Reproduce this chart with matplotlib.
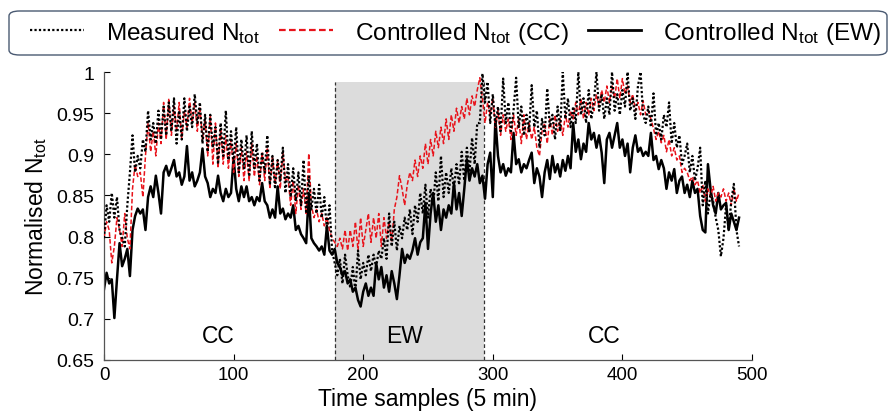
import numpy as np
import matplotlib
matplotlib.use("Agg")
import matplotlib.pyplot as plt
from matplotlib.lines import Line2D
from matplotlib.patches import FancyBboxPatch

plt.rcParams['font.family'] = ['Liberation Sans', 'DejaVu Sans']
plt.rcParams['mathtext.fontset'] = 'custom'
plt.rcParams['mathtext.rm'] = 'Liberation Sans'

# time samples (every 2nd sample)
samples = np.arange(0, 492, 2)

measured = [
    0.798, 0.838, 0.818, 0.853, 0.823,
    0.848, 0.808, 0.798, 0.788, 0.838,
    0.878, 0.923, 0.878, 0.898, 0.883,
    0.918, 0.903, 0.953, 0.918, 0.938,
    0.913, 0.953, 0.918, 0.958, 0.923,
    0.963, 0.928, 0.968, 0.913, 0.953,
    0.918, 0.968, 0.928, 0.958, 0.933,
    0.973, 0.938, 0.963, 0.913, 0.948,
    0.903, 0.948, 0.908, 0.933, 0.888,
    0.938, 0.898, 0.953, 0.893, 0.928,
    0.888, 0.933, 0.878, 0.918, 0.883,
    0.923, 0.873, 0.928, 0.883, 0.913,
    0.868, 0.903, 0.878, 0.923, 0.863,
    0.898, 0.858, 0.893, 0.868, 0.908,
    0.853, 0.888, 0.848, 0.883, 0.843,
    0.878, 0.838, 0.893, 0.828, 0.873,
    0.833, 0.858, 0.828, 0.863, 0.823,
    0.848, 0.808, 0.838, 0.783, 0.768,
    0.753, 0.773, 0.743, 0.778, 0.753,
    0.738, 0.763, 0.733, 0.783, 0.748,
    0.768, 0.753, 0.778, 0.758, 0.778,
    0.763, 0.783, 0.773, 0.798, 0.773,
    0.828, 0.788, 0.818, 0.783, 0.813,
    0.798, 0.823, 0.808, 0.833, 0.803,
    0.838, 0.818, 0.853, 0.828, 0.863,
    0.823, 0.858, 0.838, 0.878, 0.843,
    0.898, 0.848, 0.878, 0.853, 0.883,
    0.858, 0.888, 0.863, 0.903, 0.868,
    0.908, 0.878, 0.920, 0.888, 0.938,
    0.938, 0.998, 0.963, 0.988, 0.938,
    0.973, 0.933, 0.958, 0.928, 0.992,
    0.938, 0.963, 0.928, 0.953, 0.993,
    0.933, 0.958, 0.923, 0.948, 0.928,
    0.984, 0.933, 0.953, 0.908, 0.943,
    0.923, 0.980, 0.933, 0.948, 0.918,
    0.958, 0.928, 1.000, 0.943, 0.968,
    0.933, 0.958, 0.938, 1.000, 0.948,
    0.968, 0.938, 0.978, 0.943, 0.963,
    1.000, 0.953, 0.973, 0.943, 0.968,
    0.948, 1.000, 0.953, 0.973, 0.948,
    0.978, 0.958, 1.000, 0.953, 0.968,
    0.943, 0.983, 1.000, 0.948, 0.938,
    0.958, 0.933, 0.974, 0.923, 0.938,
    0.918, 0.948, 0.933, 0.963, 0.913,
    0.938, 0.908, 0.923, 0.888, 0.898,
    0.913, 0.878, 0.898, 0.868, 0.883,
    0.908, 0.838, 0.868, 0.828, 0.853,
    0.843, 0.823, 0.808, 0.776, 0.798,
    0.838, 0.808, 0.843, 0.864, 0.808,
    0.788,
]

controlled_cc = [
    0.798, 0.818, 0.808, 0.768, 0.788,
    0.823, 0.808, 0.788, 0.828, 0.798,
    0.785, 0.858, 0.888, 0.873, 0.878,
    0.848, 0.898, 0.938, 0.903, 0.928,
    0.898, 0.938, 0.913, 0.963, 0.918,
    0.968, 0.923, 0.958, 0.928, 0.963,
    0.918, 0.953, 0.933, 0.968, 0.938,
    0.963, 0.928, 0.958, 0.918, 0.943,
    0.898, 0.948, 0.888, 0.938, 0.883,
    0.933, 0.888, 0.923, 0.883, 0.918,
    0.878, 0.913, 0.873, 0.908, 0.868,
    0.903, 0.868, 0.913, 0.873, 0.898,
    0.863, 0.903, 0.868, 0.908, 0.858,
    0.898, 0.863, 0.893, 0.858, 0.903,
    0.868, 0.873, 0.838, 0.868, 0.828,
    0.863, 0.833, 0.858, 0.828, 0.901,
    0.838, 0.823, 0.833, 0.818, 0.828,
    0.813, 0.823, 0.808, 0.798, 0.793,
    0.788, 0.798, 0.785, 0.808, 0.783,
    0.808, 0.788, 0.818, 0.783, 0.823,
    0.788, 0.808, 0.828, 0.793, 0.823,
    0.798, 0.828, 0.788, 0.823, 0.798,
    0.818, 0.793, 0.833, 0.848, 0.874,
    0.858, 0.838, 0.863, 0.878, 0.868,
    0.893, 0.873, 0.898, 0.883, 0.913,
    0.888, 0.918, 0.898, 0.928, 0.908,
    0.933, 0.913, 0.943, 0.918, 0.948,
    0.928, 0.956, 0.938, 0.958, 0.943,
    0.968, 0.948, 0.971, 0.958, 0.978,
    0.993, 0.968, 0.938, 0.963, 0.948,
    0.968, 0.933, 0.953, 0.923, 0.948,
    0.928, 0.943, 0.918, 0.948, 0.923,
    0.943, 0.913, 0.948, 0.918, 0.938,
    0.918, 0.933, 0.908, 0.898, 0.928,
    0.938, 0.913, 0.943, 0.923, 0.948,
    0.928, 0.943, 0.923, 0.948, 0.933,
    0.953, 0.943, 0.963, 0.948, 0.968,
    0.943, 0.963, 0.948, 0.968, 0.953,
    0.973, 0.958, 0.978, 0.963, 0.983,
    0.963, 0.983, 0.968, 0.992, 0.968,
    0.992, 0.973, 0.983, 0.963, 0.973,
    0.953, 0.963, 0.948, 0.965, 0.948,
    0.953, 0.943, 0.931, 0.918, 0.928,
    0.914, 0.923, 0.903, 0.918, 0.898,
    0.908, 0.893, 0.898, 0.878, 0.883,
    0.878, 0.868, 0.873, 0.863, 0.868,
    0.853, 0.863, 0.843, 0.858, 0.848,
    0.861, 0.843, 0.853, 0.848, 0.858,
    0.843, 0.853, 0.838, 0.858, 0.843,
    0.853,
]

controlled_ew = [
    0.736, 0.756, 0.743, 0.748, 0.701,
    0.748, 0.792, 0.764, 0.773, 0.785,
    0.752, 0.808, 0.825, 0.834, 0.828,
    0.833, 0.808, 0.848, 0.861, 0.848,
    0.874, 0.853, 0.828, 0.878, 0.886,
    0.874, 0.883, 0.893, 0.873, 0.878,
    0.863, 0.873, 0.910, 0.868, 0.878,
    0.861, 0.868, 0.878, 0.907, 0.873,
    0.865, 0.848, 0.858, 0.853, 0.874,
    0.853, 0.843, 0.858, 0.848, 0.853,
    0.896, 0.858, 0.843, 0.861, 0.848,
    0.861, 0.843, 0.848, 0.838, 0.848,
    0.843, 0.865, 0.843, 0.838, 0.823,
    0.833, 0.823, 0.861, 0.828, 0.834,
    0.821, 0.828, 0.823, 0.838, 0.808,
    0.813, 0.803, 0.798, 0.792, 0.853,
    0.798, 0.792, 0.788, 0.783, 0.788,
    0.778, 0.813, 0.783, 0.778, 0.785,
    0.768, 0.763, 0.753, 0.758, 0.743,
    0.748, 0.733, 0.738, 0.723, 0.715,
    0.733, 0.743, 0.728, 0.738, 0.728,
    0.768, 0.748, 0.763, 0.738, 0.753,
    0.733, 0.758, 0.743, 0.724, 0.753,
    0.785, 0.768, 0.778, 0.773, 0.783,
    0.798, 0.778, 0.793, 0.798, 0.841,
    0.785, 0.828, 0.853, 0.818, 0.838,
    0.808, 0.833, 0.823, 0.838, 0.828,
    0.865, 0.833, 0.853, 0.825, 0.858,
    0.894, 0.868, 0.883, 0.873, 0.888,
    0.865, 0.874, 0.846, 0.888, 0.902,
    0.848, 0.943, 0.898, 0.878, 0.888,
    0.874, 0.883, 0.878, 0.926, 0.888,
    0.894, 0.878, 0.888, 0.883, 0.893,
    0.902, 0.865, 0.883, 0.873, 0.848,
    0.878, 0.893, 0.870, 0.898, 0.878,
    0.888, 0.873, 0.893, 0.880, 0.898,
    0.883, 0.938, 0.903, 0.918, 0.894,
    0.913, 0.903, 0.938, 0.918, 0.926,
    0.908, 0.923, 0.902, 0.865, 0.918,
    0.926, 0.908, 0.923, 0.938, 0.908,
    0.918, 0.898, 0.913, 0.878, 0.908,
    0.923, 0.903, 0.908, 0.898, 0.903,
    0.898, 0.926, 0.893, 0.898, 0.882,
    0.893, 0.883, 0.858, 0.878, 0.868,
    0.882, 0.853, 0.868, 0.873, 0.853,
    0.863, 0.848, 0.868, 0.853, 0.858,
    0.825, 0.808, 0.805, 0.888, 0.858,
    0.838, 0.828, 0.853, 0.833, 0.838,
    0.841, 0.808, 0.828, 0.818, 0.808,
    0.823,
]

ew_window = [178, 293]
ew_shade_top = 0.988
region_labels = ["CC", "EW", "CC"]
region_label_x = [88, 232, 386]
xticks = [0, 100, 200, 300, 400, 500]
yticks = [0.65, 0.7, 0.75, 0.8, 0.85, 0.9, 0.95, 1.0]
ytick_labels = ["0.65", "0.7", "0.75", "0.8", "0.85", "0.9", "0.95", "1"]

W, H = 892, 414
fig = plt.figure(figsize=(W/100, H/100), dpi=100)
ax = fig.add_axes([104/W, 1-361/H, (752-104)/W, (361-73)/H])

ax.fill_between(ew_window, [0.65, 0.65], [ew_shade_top, ew_shade_top],
                color='#dcdcdc', zorder=0, lw=0)
for xv in ew_window:
    ax.plot([xv, xv], [0.65, ew_shade_top], color='#333333',
            ls=(0, (3, 2)), lw=0.9, zorder=1)

ax.plot(samples, controlled_ew, color='black', lw=1.8, zorder=2)
ax.plot(samples, controlled_cc, color='#e8141c', lw=1.1, ls=(0, (3, 1.5)), zorder=3)
ax.plot(samples, measured, color='black', lw=1.6, ls=(0, (1, 1)), zorder=4)

for lab, xl in zip(region_labels, region_label_x):
    ax.text(xl, 0.68, lab, ha='center', va='center', fontsize=16.5)

ax.set_xlim(0, 500)
ax.set_ylim(0.65, 1.0)
ax.set_xticks(xticks)
ax.set_yticks(yticks)
ax.set_yticklabels(ytick_labels)
ax.tick_params(direction='in', length=4, width=0.8)
ax.tick_params(axis='y', pad=7, labelsize=14)
ax.tick_params(axis='x', pad=4, labelsize=13.5)
for s in ['top', 'right']:
    ax.spines[s].set_visible(False)
for s in ['left', 'bottom']:
    ax.spines[s].set_color('#555555')
    ax.spines[s].set_linewidth(0.9)

ax.set_xlabel('Time samples (5 min)', fontsize=16.5, labelpad=3)
ax.set_ylabel(r'Normalised $\mathregular{N_{tot}}$', fontsize=16.5, labelpad=5)

# legend box (rounded frame)
box = FancyBboxPatch((9/W, 1-56/H), (887-9)/W, 44/H,
                     boxstyle='round,pad=0,rounding_size=0.012',
                     transform=fig.transFigure, facecolor='white',
                     edgecolor='#4a5a72', lw=1.0, zorder=0)
fig.patches.append(box)

handles = [
    Line2D([], [], color='black', lw=1.6, ls=(0, (1, 1))),
    Line2D([], [], color='#e8141c', lw=1.6, ls=(0, (3, 1.5))),
    Line2D([], [], color='black', lw=2.0),
]
labels = [r'Measured $\mathregular{N_{tot}}$',
          r'Controlled $\mathregular{N_{tot}}$ (CC)',
          r'Controlled $\mathregular{N_{tot}}$ (EW)']
leg = fig.legend(handles, labels, loc='center', ncol=3, mode='expand',
                 bbox_to_anchor=(28/W, 1-56/H, (884-28)/W, 44/H),
                 fontsize=17.6, handlelength=2.2, handletextpad=0.9,
                 borderpad=0.1, frameon=False, borderaxespad=0)

fig.savefig('out.png', dpi=100)
